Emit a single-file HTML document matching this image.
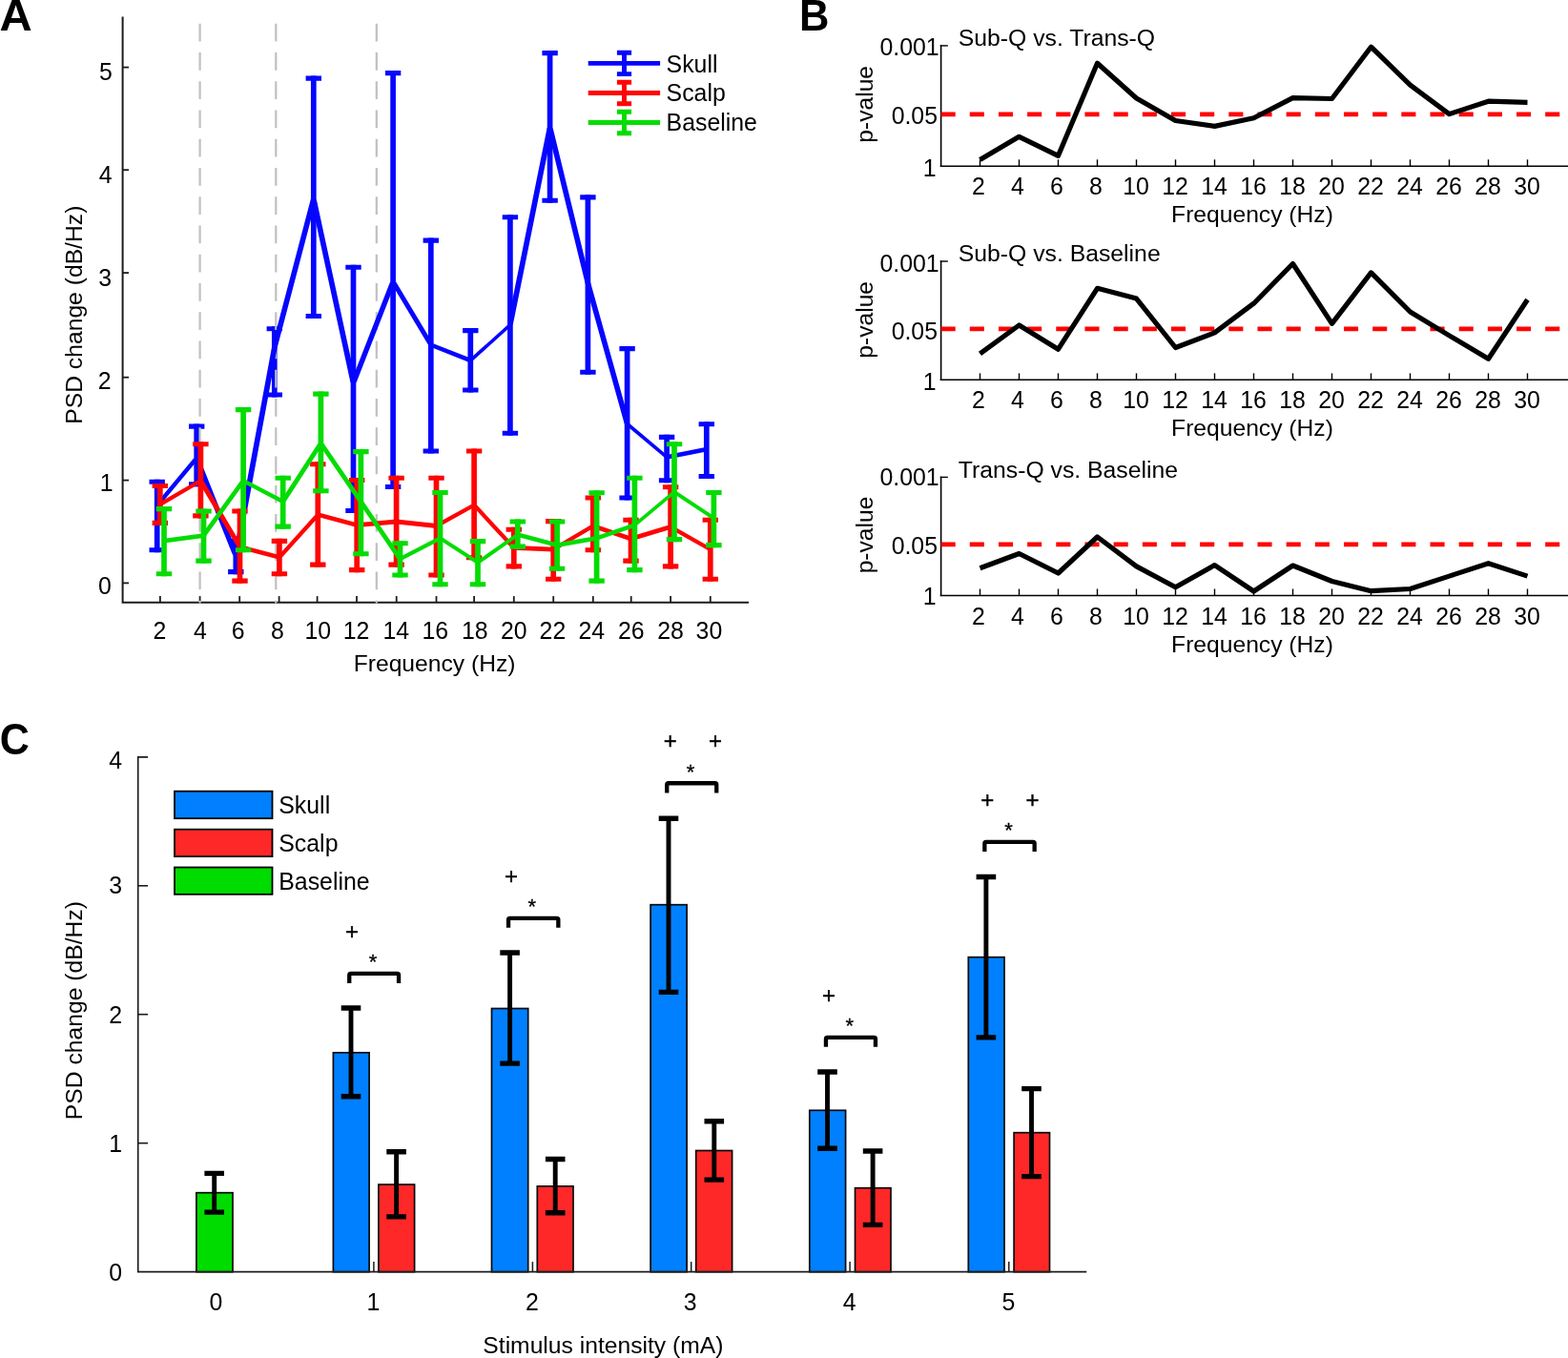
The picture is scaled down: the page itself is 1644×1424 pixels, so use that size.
<!DOCTYPE html>
<html lang="en">
<head>
<meta charset="utf-8">
<title>PSD change figure</title>
<style>
html,body{margin:0;padding:0;background:#fff;}
body{width:1644px;height:1424px;overflow:hidden;}
svg{display:block;}
svg text{font-family:"Liberation Sans",sans-serif;fill:#000;}
</style>
</head>
<body>
<svg width="1644" height="1424" viewBox="0 0 1644 1424">
<rect x="0" y="0" width="1644" height="1424" fill="#ffffff"/>
<g id="panelA">
<path d="M128.6 17.5 V631.7 H785" fill="none" stroke="#1c1c1c" stroke-width="2.0"/>
<line x1="128.6" y1="70.6" x2="135" y2="70.6" stroke="#1c1c1c" stroke-width="1.8"/>
<text x="117.8" y="84.4" text-anchor="end" font-size="24.85" font-weight="normal">5</text>
<line x1="128.6" y1="178.2" x2="135" y2="178.2" stroke="#1c1c1c" stroke-width="1.8"/>
<text x="117.5" y="192.4" text-anchor="end" font-size="24.85" font-weight="normal">4</text>
<line x1="128.6" y1="286.1" x2="135" y2="286.1" stroke="#1c1c1c" stroke-width="1.8"/>
<text x="117.2" y="300" text-anchor="end" font-size="24.85" font-weight="normal">3</text>
<line x1="128.6" y1="395.7" x2="135" y2="395.7" stroke="#1c1c1c" stroke-width="1.8"/>
<text x="116.6" y="408.2" text-anchor="end" font-size="24.85" font-weight="normal">2</text>
<line x1="128.6" y1="503.6" x2="135" y2="503.6" stroke="#1c1c1c" stroke-width="1.8"/>
<text x="118.6" y="515" text-anchor="end" font-size="24.85" font-weight="normal">1</text>
<line x1="128.6" y1="611.4" x2="135" y2="611.4" stroke="#1c1c1c" stroke-width="1.8"/>
<text x="116.9" y="622.8" text-anchor="end" font-size="24.85" font-weight="normal">0</text>
<line x1="167.9" y1="631.7" x2="167.9" y2="625.1" stroke="#1c1c1c" stroke-width="1.8"/>
<text x="167.5" y="669.6" text-anchor="middle" font-size="24.85" font-weight="normal">2</text>
<line x1="209.6" y1="631.7" x2="209.6" y2="625.1" stroke="#1c1c1c" stroke-width="1.8"/>
<text x="209.9" y="669.6" text-anchor="middle" font-size="24.85" font-weight="normal">4</text>
<line x1="251.2" y1="631.7" x2="251.2" y2="625.1" stroke="#1c1c1c" stroke-width="1.8"/>
<text x="249.6" y="669.6" text-anchor="middle" font-size="24.85" font-weight="normal">6</text>
<line x1="292.6" y1="631.7" x2="292.6" y2="625.1" stroke="#1c1c1c" stroke-width="1.8"/>
<text x="291" y="669.6" text-anchor="middle" font-size="24.85" font-weight="normal">8</text>
<line x1="332.6" y1="631.7" x2="332.6" y2="625.1" stroke="#1c1c1c" stroke-width="1.8"/>
<text x="333.2" y="669.6" text-anchor="middle" font-size="24.85" font-weight="normal">10</text>
<line x1="374" y1="631.7" x2="374" y2="625.1" stroke="#1c1c1c" stroke-width="1.8"/>
<text x="373.6" y="669.6" text-anchor="middle" font-size="24.85" font-weight="normal">12</text>
<line x1="415.7" y1="631.7" x2="415.7" y2="625.1" stroke="#1c1c1c" stroke-width="1.8"/>
<text x="415.3" y="669.6" text-anchor="middle" font-size="24.85" font-weight="normal">14</text>
<line x1="457.5" y1="631.7" x2="457.5" y2="625.1" stroke="#1c1c1c" stroke-width="1.8"/>
<text x="456.3" y="669.6" text-anchor="middle" font-size="24.85" font-weight="normal">16</text>
<line x1="497.1" y1="631.7" x2="497.1" y2="625.1" stroke="#1c1c1c" stroke-width="1.8"/>
<text x="497.7" y="669.6" text-anchor="middle" font-size="24.85" font-weight="normal">18</text>
<line x1="538.8" y1="631.7" x2="538.8" y2="625.1" stroke="#1c1c1c" stroke-width="1.8"/>
<text x="538.8" y="669.6" text-anchor="middle" font-size="24.85" font-weight="normal">20</text>
<line x1="580.2" y1="631.7" x2="580.2" y2="625.1" stroke="#1c1c1c" stroke-width="1.8"/>
<text x="579.4" y="669.6" text-anchor="middle" font-size="24.85" font-weight="normal">22</text>
<line x1="621.8" y1="631.7" x2="621.8" y2="625.1" stroke="#1c1c1c" stroke-width="1.8"/>
<text x="620.2" y="669.6" text-anchor="middle" font-size="24.85" font-weight="normal">24</text>
<line x1="661.7" y1="631.7" x2="661.7" y2="625.1" stroke="#1c1c1c" stroke-width="1.8"/>
<text x="661.7" y="669.6" text-anchor="middle" font-size="24.85" font-weight="normal">26</text>
<line x1="703.1" y1="631.7" x2="703.1" y2="625.1" stroke="#1c1c1c" stroke-width="1.8"/>
<text x="703.1" y="669.6" text-anchor="middle" font-size="24.85" font-weight="normal">28</text>
<line x1="744.8" y1="631.7" x2="744.8" y2="625.1" stroke="#1c1c1c" stroke-width="1.8"/>
<text x="743.4" y="669.6" text-anchor="middle" font-size="24.85" font-weight="normal">30</text>
<text x="455.6" y="704.3" text-anchor="middle" font-size="24.65" font-weight="normal">Frequency (Hz)</text>
<text transform="translate(86.2 330.2) rotate(-90)" text-anchor="middle" font-size="24.7">PSD change (dB/Hz)</text>
<path d="M164.7 502.75V579.25M206.2 444.55V510.25M247.3 564.95V602.15M287.8 342.25V416.55M328.8 79.55V334.05M370.5 277.75V538.05M412.1 74.05V513.05M451.8 249.55V475.55M493.3 344.05V411.55M534.9 225.15V456.75M576.6 53.05V212.85M616.4 204.35V392.75M657.6 363.05V524.55M699.1 455.85V506.35M740.8 442.15V502.05" fill="none" stroke="#0606ff" stroke-width="5.7"/>
<path d="M156.5 505.3h16.4M156.5 576.7h16.4M198 447.1h16.4M198 507.7h16.4M239.1 567.5h16.4M239.1 599.6h16.4M279.6 344.8h16.4M279.6 414h16.4M320.6 82.1h16.4M320.6 331.5h16.4M362.3 280.3h16.4M362.3 535.5h16.4M403.9 76.6h16.4M403.9 510.5h16.4M443.6 252.1h16.4M443.6 473h16.4M485.1 346.6h16.4M485.1 409h16.4M526.7 227.7h16.4M526.7 454.2h16.4M568.4 55.6h16.4M568.4 210.3h16.4M608.2 206.9h16.4M608.2 390.2h16.4M649.4 365.6h16.4M649.4 522h16.4M690.9 458.4h16.4M690.9 503.8h16.4M732.6 444.7h16.4M732.6 499.5h16.4" fill="none" stroke="#0606ff" stroke-width="5.1"/>
<line x1="209.6" y1="24.7" x2="209.6" y2="632.4" stroke="#c0c0c0" stroke-width="2.2" stroke-dasharray="18.8 11.45"/>
<line x1="289.3" y1="24.7" x2="289.3" y2="632.4" stroke="#c0c0c0" stroke-width="2.2" stroke-dasharray="18.8 11.45"/>
<line x1="394.8" y1="24.7" x2="394.8" y2="632.4" stroke="#c0c0c0" stroke-width="2.2" stroke-dasharray="18.8 11.45"/>
<path d="M161.8 530L167.6 530L209.1 480.3L203.3 480.3ZM203.3 480.3L209.1 480.3L250.2 583L244.4 583ZM244.4 583L250.2 583L290.7 364.5L284.9 364.5ZM284.9 364.5L290.7 364.5L331.7 208.6L325.9 208.6ZM325.9 208.6L331.7 208.6L373.4 401.8L367.6 401.8ZM367.6 401.8L373.4 401.8L415 295.2L409.2 295.2ZM409.2 295.2L415 295.2L454.7 361.6L448.9 361.6ZM451.8 359.2L451.8 364L493.3 380.4L493.3 375.6ZM493.3 375.6L493.3 380.4L534.9 343L534.9 338.2ZM532 340.6L537.8 340.6L579.5 133.6L573.7 133.6ZM573.7 133.6L579.5 133.6L619.3 296.8L613.5 296.8ZM613.5 296.8L619.3 296.8L660.5 444.5L654.7 444.5ZM657.6 442.1L657.6 446.9L699.1 481.8L699.1 477ZM699.1 477L699.1 481.8L740.8 473.6L740.8 468.8Z" fill="#0606ff" stroke="none"/>
<path d="M167.8 506.95V550.95M210.4 463.15V543.45M251.5 533.45V611.65M292.9 564.85V604.35M333.3 484.15V594.65M374.2 500.95V600.15M415.6 498.75V594.65M457.5 498.75V605.55M497.1 470.45V587.35M538.8 552.65V596.45M580.2 544.05V609.75M621.8 519.45V579.25M661.5 542.65V590.65M703.1 508.25V596.45M744.8 542.65V609.75" fill="none" stroke="#ff0404" stroke-width="5.7"/>
<path d="M159.6 509.5h16.4M159.6 548.4h16.4M202.2 465.7h16.4M202.2 540.9h16.4M243.3 536h16.4M243.3 609.1h16.4M284.7 567.4h16.4M284.7 601.8h16.4M325.1 486.7h16.4M325.1 592.1h16.4M366 503.5h16.4M366 597.6h16.4M407.4 501.3h16.4M407.4 592.1h16.4M449.3 501.3h16.4M449.3 603h16.4M488.9 473h16.4M488.9 584.8h16.4M530.6 555.2h16.4M530.6 593.9h16.4M572 546.6h16.4M572 607.2h16.4M613.6 522h16.4M613.6 576.7h16.4M653.3 545.2h16.4M653.3 588.1h16.4M694.9 510.8h16.4M694.9 593.9h16.4M736.6 545.2h16.4M736.6 607.2h16.4" fill="none" stroke="#ff0404" stroke-width="5.1"/>
<path d="M167.8 526.6L167.8 531.4L210.4 506.5L210.4 501.7ZM207.5 504.1L213.3 504.1L254.4 573.5L248.6 573.5ZM251.5 571.1L251.5 575.9L292.9 586.8L292.9 582ZM290 584.4L295.8 584.4L336.2 539.7L330.4 539.7ZM333.3 537.3L333.3 542.1L374.2 553L374.2 548.2ZM374.2 548.2L374.2 553L415.6 549.4L415.6 544.6ZM415.6 544.6L415.6 549.4L457.5 553.9L457.5 549.1ZM457.5 549.1L457.5 553.9L497.1 532L497.1 527.2ZM494.2 529.6L500 529.6L541.7 574.4L535.9 574.4ZM538.8 572L538.8 576.8L580.2 578.6L580.2 573.8ZM580.2 573.8L580.2 578.6L621.8 553.9L621.8 549.1ZM621.8 549.1L621.8 553.9L661.5 567.4L661.5 562.6ZM661.5 562.6L661.5 567.4L703.1 554.9L703.1 550.1ZM703.1 550.1L703.1 554.9L744.8 578.6L744.8 573.8Z" fill="#ff0404" stroke="none"/>
<path d="M172 531.05V604.35M213.5 533.45V590.65M255.1 427.05V579.25M296.7 498.75V554.65M336.4 410.55V517.25M378.4 471.05V583.35M419.5 567.25V605.55M461.5 513.95V615.25M501 565.05V615.25M542.8 544.45V575.65M584.1 544.45V598.85M625.6 514.15V611.65M665.4 498.75V600.15M707 463.15V568.15M748.4 513.95V574.15" fill="none" stroke="#04dc04" stroke-width="5.7"/>
<path d="M163.8 533.6h16.4M163.8 601.8h16.4M205.3 536h16.4M205.3 588.1h16.4M246.9 429.6h16.4M246.9 576.7h16.4M288.5 501.3h16.4M288.5 552.1h16.4M328.2 413.1h16.4M328.2 514.7h16.4M370.2 473.6h16.4M370.2 580.8h16.4M411.3 569.8h16.4M411.3 603h16.4M453.3 516.5h16.4M453.3 612.7h16.4M492.8 567.6h16.4M492.8 612.7h16.4M534.6 547h16.4M534.6 573.1h16.4M575.9 547h16.4M575.9 596.3h16.4M617.4 516.7h16.4M617.4 609.1h16.4M657.2 501.3h16.4M657.2 597.6h16.4M698.8 465.7h16.4M698.8 565.6h16.4M740.2 516.5h16.4M740.2 571.6h16.4" fill="none" stroke="#04dc04" stroke-width="5.1"/>
<path d="M172 564.7L172 569.5L213.5 564L213.5 559.2ZM210.6 561.6L216.4 561.6L258 504.1L252.2 504.1ZM255.1 501.7L255.1 506.5L296.7 528.4L296.7 523.6ZM293.8 526L299.6 526L339.3 464.8L333.5 464.8ZM333.5 464.8L339.3 464.8L381.3 526L375.5 526ZM375.5 526L381.3 526L422.4 586.2L416.6 586.2ZM419.5 583.8L419.5 588.6L461.5 566.7L461.5 561.9ZM461.5 561.9L461.5 566.7L501 592.3L501 587.5ZM501 587.5L501 592.3L542.8 563.1L542.8 558.3ZM542.8 558.3L542.8 563.1L584.1 574L584.1 569.2ZM584.1 569.2L584.1 574L625.6 566.7L625.6 561.9ZM625.6 561.9L625.6 566.7L665.4 553L665.4 548.2ZM665.4 548.2L665.4 553L707 518.3L707 513.5ZM707 513.5L707 518.3L748.4 545.7L748.4 540.9Z" fill="#04dc04" stroke="none"/>
<path d="M616.7 66.4H692.1M654.5 55.2V77.6M646.9 55.2h15.2M646.9 77.6h15.2" fill="none" stroke="#0606ff" stroke-width="4.9"/>
<text x="698.6" y="75.8" text-anchor="start" font-size="24.85" font-weight="normal">Skull</text>
<path d="M616.7 97.5H692.1M654.5 86.3V108.7M646.9 86.3h15.2M646.9 108.7h15.2" fill="none" stroke="#ff0404" stroke-width="4.9"/>
<text x="698.6" y="106.3" text-anchor="start" font-size="24.85" font-weight="normal">Scalp</text>
<path d="M616.7 128.5H692.1M654.5 117.3V139.7M646.9 117.3h15.2M646.9 139.7h15.2" fill="none" stroke="#04dc04" stroke-width="4.9"/>
<text x="698.6" y="137" text-anchor="start" font-size="24.85" font-weight="normal">Baseline</text>
<text transform="translate(-0.6 32.4) scale(1.04 1.01)" font-size="45.5" font-weight="bold">A</text>
</g>
<g id="panelB">
<text transform="translate(837.9 32.4) scale(0.955 1.026)" font-size="45.5" font-weight="bold">B</text>
<path d="M993.8 47.9H985.8" fill="none" stroke="#000" stroke-width="1.4"/>
<path d="M986.6 47.2V174.9" fill="none" stroke="#000" stroke-width="1.6"/>
<path d="M985.8 174.2H1646" fill="none" stroke="#000" stroke-width="1.45"/>
<line x1="1027.5" y1="174.2" x2="1027.5" y2="167.3" stroke="#000" stroke-width="1.4"/>
<text x="1025.9" y="203.5" text-anchor="middle" font-size="24.85" font-weight="normal">2</text>
<line x1="1068.5" y1="174.2" x2="1068.5" y2="167.3" stroke="#000" stroke-width="1.4"/>
<text x="1066.9" y="203.5" text-anchor="middle" font-size="24.85" font-weight="normal">4</text>
<line x1="1109.5" y1="174.2" x2="1109.5" y2="167.3" stroke="#000" stroke-width="1.4"/>
<text x="1107.9" y="203.5" text-anchor="middle" font-size="24.85" font-weight="normal">6</text>
<line x1="1150.5" y1="174.2" x2="1150.5" y2="167.3" stroke="#000" stroke-width="1.4"/>
<text x="1148.9" y="203.5" text-anchor="middle" font-size="24.85" font-weight="normal">8</text>
<line x1="1191.5" y1="174.2" x2="1191.5" y2="167.3" stroke="#000" stroke-width="1.4"/>
<text x="1191.1" y="203.5" text-anchor="middle" font-size="24.85" font-weight="normal">10</text>
<line x1="1232.5" y1="174.2" x2="1232.5" y2="167.3" stroke="#000" stroke-width="1.4"/>
<text x="1232.1" y="203.5" text-anchor="middle" font-size="24.85" font-weight="normal">12</text>
<line x1="1273.5" y1="174.2" x2="1273.5" y2="167.3" stroke="#000" stroke-width="1.4"/>
<text x="1273.1" y="203.5" text-anchor="middle" font-size="24.85" font-weight="normal">14</text>
<line x1="1314.5" y1="174.2" x2="1314.5" y2="167.3" stroke="#000" stroke-width="1.4"/>
<text x="1314.1" y="203.5" text-anchor="middle" font-size="24.85" font-weight="normal">16</text>
<line x1="1355.5" y1="174.2" x2="1355.5" y2="167.3" stroke="#000" stroke-width="1.4"/>
<text x="1355.1" y="203.5" text-anchor="middle" font-size="24.85" font-weight="normal">18</text>
<line x1="1396.5" y1="174.2" x2="1396.5" y2="167.3" stroke="#000" stroke-width="1.4"/>
<text x="1396.1" y="203.5" text-anchor="middle" font-size="24.85" font-weight="normal">20</text>
<line x1="1437.5" y1="174.2" x2="1437.5" y2="167.3" stroke="#000" stroke-width="1.4"/>
<text x="1437.1" y="203.5" text-anchor="middle" font-size="24.85" font-weight="normal">22</text>
<line x1="1478.5" y1="174.2" x2="1478.5" y2="167.3" stroke="#000" stroke-width="1.4"/>
<text x="1478.1" y="203.5" text-anchor="middle" font-size="24.85" font-weight="normal">24</text>
<line x1="1519.5" y1="174.2" x2="1519.5" y2="167.3" stroke="#000" stroke-width="1.4"/>
<text x="1519.1" y="203.5" text-anchor="middle" font-size="24.85" font-weight="normal">26</text>
<line x1="1560.5" y1="174.2" x2="1560.5" y2="167.3" stroke="#000" stroke-width="1.4"/>
<text x="1560.1" y="203.5" text-anchor="middle" font-size="24.85" font-weight="normal">28</text>
<line x1="1601.5" y1="174.2" x2="1601.5" y2="167.3" stroke="#000" stroke-width="1.4"/>
<text x="1601.1" y="203.5" text-anchor="middle" font-size="24.85" font-weight="normal">30</text>
<line x1="986.6" y1="119.8" x2="1650" y2="119.8" stroke="#ff0404" stroke-width="4.8" stroke-dasharray="15.1 15.07"/>
<polyline points="1027.5,167.6 1068.5,143.3 1109.5,163.3 1150.5,66.3 1191.5,103 1232.5,126.5 1273.5,132.4 1314.5,123.7 1355.5,102.6 1396.5,103.5 1437.5,49.2 1478.5,89.2 1519.5,119.6 1560.5,106.2 1601.5,107.3" fill="none" stroke="#000" stroke-width="5.2" stroke-linejoin="round"/>
<text x="1004.8" y="48.1" text-anchor="start" font-size="24.75" font-weight="normal">Sub-Q vs. Trans-Q</text>
<text x="1313" y="232.6" text-anchor="middle" font-size="24.65" font-weight="normal">Frequency (Hz)</text>
<text x="984.6" y="57.5" text-anchor="end" font-size="24.85" font-weight="normal">0.001</text>
<text x="983" y="129.5" text-anchor="end" font-size="24.85" font-weight="normal">0.05</text>
<text x="981.6" y="184.5" text-anchor="end" font-size="24.85" font-weight="normal">1</text>
<text transform="translate(914.6 109.3) rotate(-90)" text-anchor="middle" font-size="24.6">p-value</text>
<path d="M993.8 274H985.8" fill="none" stroke="#000" stroke-width="1.4"/>
<path d="M986.6 273.3V399" fill="none" stroke="#000" stroke-width="1.6"/>
<path d="M985.8 398.3H1646" fill="none" stroke="#000" stroke-width="1.45"/>
<line x1="1027.5" y1="398.3" x2="1027.5" y2="391.4" stroke="#000" stroke-width="1.4"/>
<text x="1025.9" y="427.9" text-anchor="middle" font-size="24.85" font-weight="normal">2</text>
<line x1="1068.5" y1="398.3" x2="1068.5" y2="391.4" stroke="#000" stroke-width="1.4"/>
<text x="1066.9" y="427.9" text-anchor="middle" font-size="24.85" font-weight="normal">4</text>
<line x1="1109.5" y1="398.3" x2="1109.5" y2="391.4" stroke="#000" stroke-width="1.4"/>
<text x="1107.9" y="427.9" text-anchor="middle" font-size="24.85" font-weight="normal">6</text>
<line x1="1150.5" y1="398.3" x2="1150.5" y2="391.4" stroke="#000" stroke-width="1.4"/>
<text x="1148.9" y="427.9" text-anchor="middle" font-size="24.85" font-weight="normal">8</text>
<line x1="1191.5" y1="398.3" x2="1191.5" y2="391.4" stroke="#000" stroke-width="1.4"/>
<text x="1191.1" y="427.9" text-anchor="middle" font-size="24.85" font-weight="normal">10</text>
<line x1="1232.5" y1="398.3" x2="1232.5" y2="391.4" stroke="#000" stroke-width="1.4"/>
<text x="1232.1" y="427.9" text-anchor="middle" font-size="24.85" font-weight="normal">12</text>
<line x1="1273.5" y1="398.3" x2="1273.5" y2="391.4" stroke="#000" stroke-width="1.4"/>
<text x="1273.1" y="427.9" text-anchor="middle" font-size="24.85" font-weight="normal">14</text>
<line x1="1314.5" y1="398.3" x2="1314.5" y2="391.4" stroke="#000" stroke-width="1.4"/>
<text x="1314.1" y="427.9" text-anchor="middle" font-size="24.85" font-weight="normal">16</text>
<line x1="1355.5" y1="398.3" x2="1355.5" y2="391.4" stroke="#000" stroke-width="1.4"/>
<text x="1355.1" y="427.9" text-anchor="middle" font-size="24.85" font-weight="normal">18</text>
<line x1="1396.5" y1="398.3" x2="1396.5" y2="391.4" stroke="#000" stroke-width="1.4"/>
<text x="1396.1" y="427.9" text-anchor="middle" font-size="24.85" font-weight="normal">20</text>
<line x1="1437.5" y1="398.3" x2="1437.5" y2="391.4" stroke="#000" stroke-width="1.4"/>
<text x="1437.1" y="427.9" text-anchor="middle" font-size="24.85" font-weight="normal">22</text>
<line x1="1478.5" y1="398.3" x2="1478.5" y2="391.4" stroke="#000" stroke-width="1.4"/>
<text x="1478.1" y="427.9" text-anchor="middle" font-size="24.85" font-weight="normal">24</text>
<line x1="1519.5" y1="398.3" x2="1519.5" y2="391.4" stroke="#000" stroke-width="1.4"/>
<text x="1519.1" y="427.9" text-anchor="middle" font-size="24.85" font-weight="normal">26</text>
<line x1="1560.5" y1="398.3" x2="1560.5" y2="391.4" stroke="#000" stroke-width="1.4"/>
<text x="1560.1" y="427.9" text-anchor="middle" font-size="24.85" font-weight="normal">28</text>
<line x1="1601.5" y1="398.3" x2="1601.5" y2="391.4" stroke="#000" stroke-width="1.4"/>
<text x="1601.1" y="427.9" text-anchor="middle" font-size="24.85" font-weight="normal">30</text>
<line x1="986.6" y1="344.8" x2="1650" y2="344.8" stroke="#ff0404" stroke-width="4.8" stroke-dasharray="15.1 15.07"/>
<polyline points="1027.5,370.8 1068.5,341 1109.5,366.2 1150.5,302.3 1191.5,313.1 1232.5,364.5 1273.5,348.9 1314.5,318.2 1355.5,276.5 1396.5,339.3 1437.5,285.9 1478.5,327 1519.5,351.9 1560.5,376.3 1601.5,314.2" fill="none" stroke="#000" stroke-width="5.2" stroke-linejoin="round"/>
<text x="1004.8" y="273.7" text-anchor="start" font-size="24.75" font-weight="normal">Sub-Q vs. Baseline</text>
<text x="1313" y="456.7" text-anchor="middle" font-size="24.65" font-weight="normal">Frequency (Hz)</text>
<text x="984.6" y="284.7" text-anchor="end" font-size="24.85" font-weight="normal">0.001</text>
<text x="983" y="355.6" text-anchor="end" font-size="24.85" font-weight="normal">0.05</text>
<text x="981.6" y="409.4" text-anchor="end" font-size="24.85" font-weight="normal">1</text>
<text transform="translate(914.6 335.3) rotate(-90)" text-anchor="middle" font-size="24.6">p-value</text>
<path d="M993.8 500.4H985.8" fill="none" stroke="#000" stroke-width="1.4"/>
<path d="M986.6 499.7V625.1" fill="none" stroke="#000" stroke-width="1.6"/>
<path d="M985.8 624.4H1646" fill="none" stroke="#000" stroke-width="1.45"/>
<line x1="1027.5" y1="624.4" x2="1027.5" y2="617.5" stroke="#000" stroke-width="1.4"/>
<text x="1025.9" y="655.2" text-anchor="middle" font-size="24.85" font-weight="normal">2</text>
<line x1="1068.5" y1="624.4" x2="1068.5" y2="617.5" stroke="#000" stroke-width="1.4"/>
<text x="1066.9" y="655.2" text-anchor="middle" font-size="24.85" font-weight="normal">4</text>
<line x1="1109.5" y1="624.4" x2="1109.5" y2="617.5" stroke="#000" stroke-width="1.4"/>
<text x="1107.9" y="655.2" text-anchor="middle" font-size="24.85" font-weight="normal">6</text>
<line x1="1150.5" y1="624.4" x2="1150.5" y2="617.5" stroke="#000" stroke-width="1.4"/>
<text x="1148.9" y="655.2" text-anchor="middle" font-size="24.85" font-weight="normal">8</text>
<line x1="1191.5" y1="624.4" x2="1191.5" y2="617.5" stroke="#000" stroke-width="1.4"/>
<text x="1191.1" y="655.2" text-anchor="middle" font-size="24.85" font-weight="normal">10</text>
<line x1="1232.5" y1="624.4" x2="1232.5" y2="617.5" stroke="#000" stroke-width="1.4"/>
<text x="1232.1" y="655.2" text-anchor="middle" font-size="24.85" font-weight="normal">12</text>
<line x1="1273.5" y1="624.4" x2="1273.5" y2="617.5" stroke="#000" stroke-width="1.4"/>
<text x="1273.1" y="655.2" text-anchor="middle" font-size="24.85" font-weight="normal">14</text>
<line x1="1314.5" y1="624.4" x2="1314.5" y2="617.5" stroke="#000" stroke-width="1.4"/>
<text x="1314.1" y="655.2" text-anchor="middle" font-size="24.85" font-weight="normal">16</text>
<line x1="1355.5" y1="624.4" x2="1355.5" y2="617.5" stroke="#000" stroke-width="1.4"/>
<text x="1355.1" y="655.2" text-anchor="middle" font-size="24.85" font-weight="normal">18</text>
<line x1="1396.5" y1="624.4" x2="1396.5" y2="617.5" stroke="#000" stroke-width="1.4"/>
<text x="1396.1" y="655.2" text-anchor="middle" font-size="24.85" font-weight="normal">20</text>
<line x1="1437.5" y1="624.4" x2="1437.5" y2="617.5" stroke="#000" stroke-width="1.4"/>
<text x="1437.1" y="655.2" text-anchor="middle" font-size="24.85" font-weight="normal">22</text>
<line x1="1478.5" y1="624.4" x2="1478.5" y2="617.5" stroke="#000" stroke-width="1.4"/>
<text x="1478.1" y="655.2" text-anchor="middle" font-size="24.85" font-weight="normal">24</text>
<line x1="1519.5" y1="624.4" x2="1519.5" y2="617.5" stroke="#000" stroke-width="1.4"/>
<text x="1519.1" y="655.2" text-anchor="middle" font-size="24.85" font-weight="normal">26</text>
<line x1="1560.5" y1="624.4" x2="1560.5" y2="617.5" stroke="#000" stroke-width="1.4"/>
<text x="1560.1" y="655.2" text-anchor="middle" font-size="24.85" font-weight="normal">28</text>
<line x1="1601.5" y1="624.4" x2="1601.5" y2="617.5" stroke="#000" stroke-width="1.4"/>
<text x="1601.1" y="655.2" text-anchor="middle" font-size="24.85" font-weight="normal">30</text>
<line x1="986.6" y1="570.8" x2="1650" y2="570.8" stroke="#ff0404" stroke-width="4.8" stroke-dasharray="15.1 15.07"/>
<polyline points="1027.5,595.8 1068.5,580.5 1109.5,601 1150.5,563 1191.5,593.9 1232.5,615.8 1273.5,592.6 1314.5,620 1355.5,593 1396.5,609.5 1437.5,619.7 1478.5,617.5 1519.5,604.1 1560.5,590.7 1601.5,604.1" fill="none" stroke="#000" stroke-width="5.2" stroke-linejoin="round"/>
<text x="1004.8" y="500.9" text-anchor="start" font-size="24.75" font-weight="normal">Trans-Q vs. Baseline</text>
<text x="1313" y="683.8" text-anchor="middle" font-size="24.65" font-weight="normal">Frequency (Hz)</text>
<text x="984.6" y="509.1" text-anchor="end" font-size="24.85" font-weight="normal">0.001</text>
<text x="983" y="581.4" text-anchor="end" font-size="24.85" font-weight="normal">0.05</text>
<text x="981.6" y="634.4" text-anchor="end" font-size="24.85" font-weight="normal">1</text>
<text transform="translate(914.6 561) rotate(-90)" text-anchor="middle" font-size="24.6">p-value</text>
</g>
<g id="panelC">
<text transform="translate(-0.3 791) scale(0.947 1.034)" font-size="45.5" font-weight="bold">C</text>
<line x1="391.9" y1="1333.7" x2="391.9" y2="1323.1" stroke="#1c1c1c" stroke-width="1.5"/>
<line x1="558.4" y1="1333.7" x2="558.4" y2="1323.1" stroke="#1c1c1c" stroke-width="1.5"/>
<line x1="724.7" y1="1333.7" x2="724.7" y2="1323.1" stroke="#1c1c1c" stroke-width="1.5"/>
<line x1="891.1" y1="1333.7" x2="891.1" y2="1323.1" stroke="#1c1c1c" stroke-width="1.5"/>
<line x1="1057.8" y1="1333.7" x2="1057.8" y2="1323.1" stroke="#1c1c1c" stroke-width="1.5"/>
<rect x="205.9" y="1250.7" width="38.1" height="83" fill="#00dc00" stroke="#0a0a0a" stroke-width="1.7"/>
<rect x="349.4" y="1103.8" width="37.7" height="229.9" fill="#0080ff" stroke="#0a0a0a" stroke-width="1.7"/>
<rect x="396.9" y="1242.1" width="37.7" height="91.6" fill="#ff2828" stroke="#0a0a0a" stroke-width="1.7"/>
<rect x="515.5" y="1057.5" width="38.2" height="276.2" fill="#0080ff" stroke="#0a0a0a" stroke-width="1.7"/>
<rect x="563.3" y="1243.9" width="37.7" height="89.8" fill="#ff2828" stroke="#0a0a0a" stroke-width="1.7"/>
<rect x="682.1" y="948.7" width="38" height="385" fill="#0080ff" stroke="#0a0a0a" stroke-width="1.7"/>
<rect x="729.7" y="1206.5" width="37.9" height="127.2" fill="#ff2828" stroke="#0a0a0a" stroke-width="1.7"/>
<rect x="848.8" y="1164.3" width="37.8" height="169.4" fill="#0080ff" stroke="#0a0a0a" stroke-width="1.7"/>
<rect x="896.5" y="1245.7" width="37.5" height="88" fill="#ff2828" stroke="#0a0a0a" stroke-width="1.7"/>
<rect x="1015.3" y="1003.7" width="37.7" height="330" fill="#0080ff" stroke="#0a0a0a" stroke-width="1.7"/>
<rect x="1063.1" y="1187.7" width="37.4" height="146" fill="#ff2828" stroke="#0a0a0a" stroke-width="1.7"/>
<path d="M155.1 793.9H144.7V1333.7H1139.3" fill="none" stroke="#1c1c1c" stroke-width="1.7"/>
<text x="128" y="805.5" text-anchor="end" font-size="24.85" font-weight="normal">4</text>
<line x1="144.7" y1="928.8" x2="155.1" y2="928.8" stroke="#1c1c1c" stroke-width="1.6"/>
<text x="128" y="937.2" text-anchor="end" font-size="24.85" font-weight="normal">3</text>
<line x1="144.7" y1="1063.7" x2="155.1" y2="1063.7" stroke="#1c1c1c" stroke-width="1.6"/>
<text x="128" y="1073.1" text-anchor="end" font-size="24.85" font-weight="normal">2</text>
<line x1="144.7" y1="1198.7" x2="155.1" y2="1198.7" stroke="#1c1c1c" stroke-width="1.6"/>
<text x="128" y="1207.7" text-anchor="end" font-size="24.85" font-weight="normal">1</text>
<text x="128" y="1342.7" text-anchor="end" font-size="24.85" font-weight="normal">0</text>
<path d="M224.7 1230.4V1271.1" fill="none" stroke="#000" stroke-width="4.9"/>
<path d="M214.4 1230.4h20.6M214.4 1271.1h20.6" fill="none" stroke="#000" stroke-width="5.4"/>
<path d="M368 1057V1149.7" fill="none" stroke="#000" stroke-width="4.9"/>
<path d="M357.7 1057h20.6M357.7 1149.7h20.6" fill="none" stroke="#000" stroke-width="5.4"/>
<path d="M415.6 1207.8V1275.9" fill="none" stroke="#000" stroke-width="4.9"/>
<path d="M405.3 1207.8h20.6M405.3 1275.9h20.6" fill="none" stroke="#000" stroke-width="5.4"/>
<path d="M534.6 999V1115.1" fill="none" stroke="#000" stroke-width="4.9"/>
<path d="M524.3 999h20.6M524.3 1115.1h20.6" fill="none" stroke="#000" stroke-width="5.4"/>
<path d="M582.2 1215.5V1271.8" fill="none" stroke="#000" stroke-width="4.9"/>
<path d="M571.9 1215.5h20.6M571.9 1271.8h20.6" fill="none" stroke="#000" stroke-width="5.4"/>
<path d="M701 858.3V1040.4" fill="none" stroke="#000" stroke-width="4.9"/>
<path d="M690.7 858.3h20.6M690.7 1040.4h20.6" fill="none" stroke="#000" stroke-width="5.4"/>
<path d="M748.8 1175.7V1237.1" fill="none" stroke="#000" stroke-width="4.9"/>
<path d="M738.5 1175.7h20.6M738.5 1237.1h20.6" fill="none" stroke="#000" stroke-width="5.4"/>
<path d="M867.5 1124V1204.3" fill="none" stroke="#000" stroke-width="4.9"/>
<path d="M857.2 1124h20.6M857.2 1204.3h20.6" fill="none" stroke="#000" stroke-width="5.4"/>
<path d="M915.1 1207V1284.4" fill="none" stroke="#000" stroke-width="4.9"/>
<path d="M904.8 1207h20.6M904.8 1284.4h20.6" fill="none" stroke="#000" stroke-width="5.4"/>
<path d="M1033.9 919.5V1087.9" fill="none" stroke="#000" stroke-width="4.9"/>
<path d="M1023.6 919.5h20.6M1023.6 1087.9h20.6" fill="none" stroke="#000" stroke-width="5.4"/>
<path d="M1081.5 1141.6V1233.6" fill="none" stroke="#000" stroke-width="4.9"/>
<path d="M1071.2 1141.6h20.6M1071.2 1233.6h20.6" fill="none" stroke="#000" stroke-width="5.4"/>
<path d="M366.25 1030.9V1022.45Q366.25 1020.85 367.85 1020.85H416.45Q418.05 1020.85 418.05 1022.45V1030.9" fill="none" stroke="#000" stroke-width="4.3" stroke-linejoin="round"/>
<path d="M533.05 972.8V964.45Q533.05 962.85 534.65 962.85H583.75Q585.35 962.85 585.35 964.45V972.8" fill="none" stroke="#000" stroke-width="4.3" stroke-linejoin="round"/>
<path d="M699.25 831.5V822.85Q699.25 821.25 700.85 821.25H749.65Q751.25 821.25 751.25 822.85V831.5" fill="none" stroke="#000" stroke-width="4.3" stroke-linejoin="round"/>
<path d="M865.95 1097.8V1089.45Q865.95 1087.85 867.55 1087.85H916.35Q917.95 1087.85 917.95 1089.45V1097.8" fill="none" stroke="#000" stroke-width="4.3" stroke-linejoin="round"/>
<path d="M1032.35 892.9V884.45Q1032.35 882.85 1033.95 882.85H1083.05Q1084.65 882.85 1084.65 884.45V892.9" fill="none" stroke="#000" stroke-width="4.3" stroke-linejoin="round"/>
<text x="368.9" y="984.9" text-anchor="middle" font-size="24" font-weight="normal" stroke="#000" stroke-width="0.4">+</text>
<text x="536" y="926.9" text-anchor="middle" font-size="24" font-weight="normal" stroke="#000" stroke-width="0.4">+</text>
<text x="702.8" y="785.3" text-anchor="middle" font-size="24" font-weight="normal" stroke="#000" stroke-width="0.4">+</text>
<text x="749.9" y="785.3" text-anchor="middle" font-size="24" font-weight="normal" stroke="#000" stroke-width="0.4">+</text>
<text x="869" y="1051.6" text-anchor="middle" font-size="24" font-weight="normal" stroke="#000" stroke-width="0.4">+</text>
<text x="1035.3" y="846.9" text-anchor="middle" font-size="24" font-weight="normal" stroke="#000" stroke-width="0.4">+</text>
<text x="1082.6" y="846.9" text-anchor="middle" font-size="24" font-weight="normal" stroke="#000" stroke-width="0.4">+</text>
<text x="391" y="1015.9" text-anchor="middle" font-size="22" font-weight="normal" stroke="#000" stroke-width="0.3">*</text>
<text x="557.8" y="957.9" text-anchor="middle" font-size="22" font-weight="normal" stroke="#000" stroke-width="0.3">*</text>
<text x="724" y="816.8" text-anchor="middle" font-size="22" font-weight="normal" stroke="#000" stroke-width="0.3">*</text>
<text x="890.9" y="1083.2" text-anchor="middle" font-size="22" font-weight="normal" stroke="#000" stroke-width="0.3">*</text>
<text x="1057.6" y="877.9" text-anchor="middle" font-size="22" font-weight="normal" stroke="#000" stroke-width="0.3">*</text>
<rect x="183.0" y="829.7" width="102.5" height="28.5" fill="#0080ff" stroke="#000" stroke-width="1.8"/>
<text x="292.3" y="853" text-anchor="start" font-size="24.85" font-weight="normal">Skull</text>
<rect x="183.0" y="869.7" width="102.5" height="28.4" fill="#ff2828" stroke="#000" stroke-width="1.8"/>
<text x="292.3" y="892.6" text-anchor="start" font-size="24.85" font-weight="normal">Scalp</text>
<rect x="183.0" y="909.5" width="102.5" height="28.3" fill="#00dc00" stroke="#000" stroke-width="1.8"/>
<text x="292.3" y="932.7" text-anchor="start" font-size="24.85" font-weight="normal">Baseline</text>
<text x="226.5" y="1373.9" text-anchor="middle" font-size="24.85" font-weight="normal">0</text>
<text x="391.5" y="1373.9" text-anchor="middle" font-size="24.85" font-weight="normal">1</text>
<text x="558" y="1373.9" text-anchor="middle" font-size="24.85" font-weight="normal">2</text>
<text x="723.6" y="1373.9" text-anchor="middle" font-size="24.85" font-weight="normal">3</text>
<text x="890.7" y="1373.9" text-anchor="middle" font-size="24.85" font-weight="normal">4</text>
<text x="1057.4" y="1373.9" text-anchor="middle" font-size="24.85" font-weight="normal">5</text>
<text x="632.4" y="1419" text-anchor="middle" font-size="24.67" font-weight="normal">Stimulus intensity (mA)</text>
<text transform="translate(86.2 1059.6) rotate(-90)" text-anchor="middle" font-size="24.7">PSD change (dB/Hz)</text>
</g>
</svg>
</body>
</html>
